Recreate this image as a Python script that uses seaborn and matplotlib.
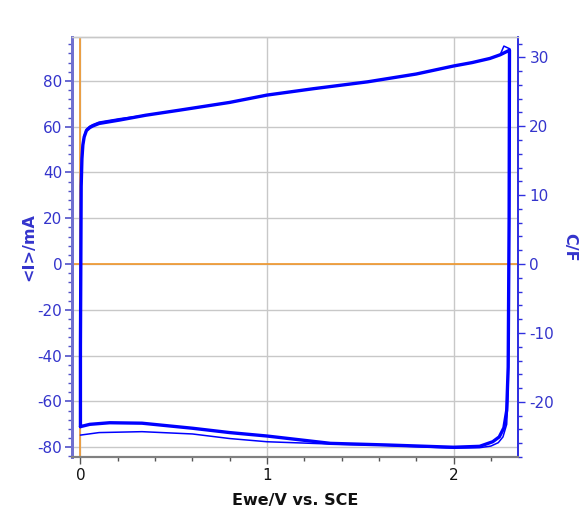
import matplotlib
matplotlib.use("Agg")
import matplotlib.pyplot as plt
import seaborn as sns
import pandas as pd
from matplotlib.ticker import MultipleLocator

# forward scan (shared by the cycles)
up_x = [0.0, 0.0, 0.004, 0.008, 0.013, 0.02, 0.032, 0.05, 0.066, 0.1, 0.21, 0.35,
        0.53, 0.8, 1.0, 1.25, 1.54, 1.8, 2.0, 2.1, 2.195, 2.25, 2.3]
up_i = [-71, -36, 34, 46, 52, 55.5, 58.3, 59.6, 60.3, 61.4, 62.9, 65.0,
        67.2, 70.6, 73.8, 76.6, 79.6, 83.0, 86.5, 88.0, 89.8, 91.4, 93.4]

# reverse scan, later cycles (thick band)
dn_x = [2.3, 2.298, 2.293, 2.285, 2.27, 2.245, 2.21, 2.14, 2.0, 1.64, 1.34, 1.0,
        0.8, 0.6, 0.33, 0.157, 0.05, 0.0]
dn_i = [93.4, 20, -45, -64, -71.5, -75.5, -77.6, -79.6, -80.0, -79.0, -78.3, -75.1,
        -73.6, -71.7, -69.5, -69.3, -70.0, -71.0]

# reverse scan, first cycle (thin line)
dn1_x = [2.25, 2.27, 2.302, 2.3, 2.298, 2.293, 2.285, 2.265, 2.24, 2.2, 2.14, 2.0,
         1.64, 1.34, 1.0, 0.8, 0.6, 0.33, 0.1, 0.0]
dn1_i = [91.4, 95.2, 94.0, 60, -10, -55, -70, -75.5, -78.0, -79.5, -80.2, -80.4,
         -79.2, -78.6, -77.6, -76.2, -74.2, -73.2, -73.6, -74.7]

x_ticks = [0, 1, 2]
i_ticks = [-80, -60, -40, -20, 0, 20, 40, 60, 80]
c_ticks = [-20, -10, 0, 10, 20, 30]

sns.set_style("white")
plt.rcParams['font.family'] = ['DejaVu Sans']
plt.rcParams['axes.unicode_minus'] = False

blue = '#0000ff'
lab_blue = '#3434cc'
orange = '#f0962a'

fig = plt.figure(figsize=(5.81, 5.09), dpi=100)
ax = fig.add_axes([0.124, 0.102, 0.768, 0.825])

ax.set_xlim(-0.045, 2.347)
ax.set_ylim(-84.3, 99.1)

for v in i_ticks:
    ax.axhline(v, color='#c8c8c8', lw=1, zorder=0)
for v in x_ticks:
    ax.axvline(v, color='#c8c8c8', lw=1, zorder=0)
ax.axhline(0, color=orange, lw=1.2, zorder=1)
ax.axvline(0, color=orange, lw=1.2, zorder=1)

cyc = pd.DataFrame({'x': up_x + dn_x, 'i': up_i + dn_i})
cyc1 = pd.DataFrame({'x': up_x + dn1_x, 'i': [v + 0.6 if 0.01 < x < 0.3 else v for x, v in zip(up_x, up_i)] + dn1_i})
sns.lineplot(data=cyc, x='x', y='i', sort=False, estimator=None, color=blue, lw=2.4, ax=ax, zorder=3)
sns.lineplot(data=cyc1, x='x', y='i', sort=False, estimator=None, color=blue, lw=1.1, ax=ax, zorder=3)

ax.set_xticks(x_ticks)
ax.xaxis.set_minor_locator(MultipleLocator(0.2))
ax.set_yticks(i_ticks)
ax.yaxis.set_minor_locator(MultipleLocator(4))
ax.tick_params(axis='x', which='major', length=5, width=1, color='#555555', labelsize=11, labelcolor='#111111', direction='out', bottom=True, pad=3)
ax.tick_params(axis='x', which='minor', length=3, width=1, color='#555555', direction='out', bottom=True)
ax.tick_params(axis='y', which='major', length=5, width=1.2, color='#5050c8', labelsize=11, labelcolor=lab_blue, direction='out', left=True, pad=2)
ax.tick_params(axis='y', which='minor', length=3, width=1, color='#5050c8', direction='out', left=True)

ax.set_xlabel('Ewe/V vs. SCE', fontsize=11.5, fontweight='bold', color='#111111', labelpad=7)
ax.set_ylabel('<I>/mA', fontsize=11.5, fontweight='bold', color=lab_blue, labelpad=1)

ax2 = ax.twinx()
ax2.set_ylim(-84.3 / 3.01, 99.1 / 3.01)
ax2.set_yticks(c_ticks)
ax2.yaxis.set_minor_locator(MultipleLocator(2))
ax2.tick_params(axis='y', which='major', length=5, width=1, color='#3030e0', labelsize=11, labelcolor=lab_blue, direction='out', right=True, pad=3)
ax2.tick_params(axis='y', which='minor', length=3, width=1, color='#3030e0', direction='out', right=True)
ax2.set_ylabel('C/F', fontsize=11.5, fontweight='bold', color=lab_blue, rotation=-90, labelpad=17)

for a in (ax, ax2):
    a.spines['left'].set_color('#7070d0')
    a.spines['left'].set_linewidth(2)
    a.spines['right'].set_color('#3030e0')
    a.spines['right'].set_linewidth(1.3)
    a.spines['bottom'].set_color('#808080')
    a.spines['bottom'].set_linewidth(1.5)
    a.spines['top'].set_color('#c8c8c8')
    a.spines['top'].set_linewidth(1)

fig.savefig('out.png', dpi=100)
